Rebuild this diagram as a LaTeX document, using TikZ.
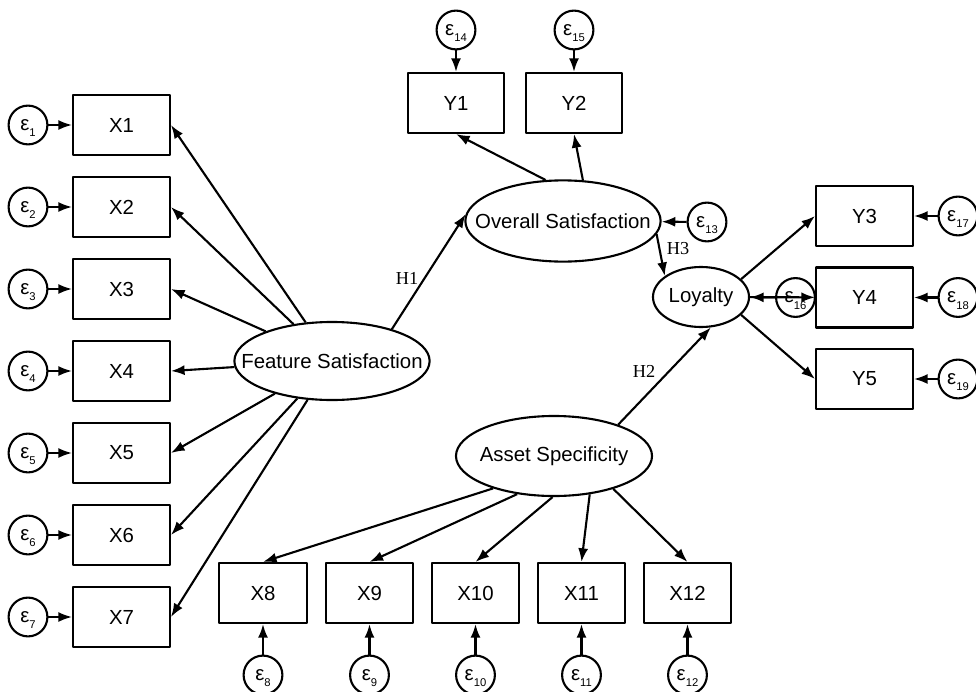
\documentclass[tikz,border=0pt]{standalone}
\usepackage{fontspec}
\setmainfont{Liberation Sans}
\newfontfamily\hypfont{Liberation Serif}
\usetikzlibrary{shapes.geometric,arrows.meta}
\newcommand{\er}[1]{ε\raisebox{-0.6ex}[0pt][0pt]{\fontsize{8}{8}\selectfont #1}}

\begin{document}
\begin{tikzpicture}[x=0.025cm,y=-0.025cm,line width=1.5pt,line join=round,
  >={Latex[length=0.34cm,width=0.25cm]},
  font=\fontsize{14.5}{17}\selectfont,
  box/.style={draw,rectangle,minimum width=2.42cm,minimum height=1.5cm,inner sep=0pt},
  sbox/.style={box,minimum width=2.18cm},
  lv/.style={draw,ellipse,inner xsep=-16pt,inner ysep=0pt},
  err/.style={draw,circle,minimum size=0.97cm,inner sep=0pt},
  hyp/.style={font=\hypfont\fontsize{13}{15}\selectfont,inner sep=0pt}]
  \useasboundingbox (0,0) rectangle (976,692);

  % latent variables
  \node[lv,minimum width=4.88cm,minimum height=1.95cm] (fs) at (332,361) {Feature Satisfaction};
  \node[lv,minimum width=4.88cm,minimum height=2.03cm] (os) at (563,221) {Overall Satisfaction};
  \node[lv,minimum width=4.9cm,minimum height=2cm] (as) at (554,456) {Asset Specificity};
  \node[lv,minimum width=2.4cm,minimum height=1.5cm] (loy) at (701,297) {Loyalty};

  % feature items
  \node[box] (x1) at (121.5,125) {X1};
  \node[box] (x2) at (121.5,207) {X2};
  \node[box] (x3) at (121.5,289) {X3};
  \node[box] (x4) at (121.5,371) {X4};
  \node[box] (x5) at (121.5,453) {X5};
  \node[box] (x6) at (121.5,535) {X6};
  \node[box] (x7) at (121.5,617) {X7};
  \node[err] (e1) at (28,125) {\er{1}};
  \node[err] (e2) at (28,207) {\er{2}};
  \node[err] (e3) at (28,289) {\er{3}};
  \node[err] (e4) at (28,371) {\er{4}};
  \node[err] (e5) at (28,453) {\er{5}};
  \node[err] (e6) at (28,535) {\er{6}};
  \node[err] (e7) at (28,617) {\er{7}};

  % asset items
  \node[sbox] (x8) at (263,593) {X8};
  \node[sbox] (x9) at (369.5,593) {X9};
  \node[sbox] (x10) at (475.5,593) {X10};
  \node[sbox] (x11) at (581.5,593) {X11};
  \node[sbox] (x12) at (687.5,593) {X12};
  \node[err] (e8) at (263,675) {\er{8}};
  \node[err] (e9) at (369.5,675) {\er{9}};
  \node[err] (e10) at (475.5,675) {\er{10}};
  \node[err] (e11) at (581.5,675) {\er{11}};
  \node[err] (e12) at (687.5,675) {\er{12}};

  % outcome items
  \node[box] (y1) at (456,103) {Y1};
  \node[box] (y2) at (574,103) {Y2};
  \node[box] (y3) at (864.5,216) {Y3};
  \node[box] (y4) at (864.5,297.5) {Y4};
  \node[box] (y5) at (864.5,379) {Y5};
  \node[err] (e14) at (456,30) {\er{14}};
  \node[err] (e15) at (574,30) {\er{15}};
  \node[err] (e13) at (707,222) {\er{13}};
  \node[err] (e16) at (795.5,297.5) {\er{16}};
  \node[err] (e17) at (958,216) {\er{17}};
  \node[err] (e18) at (958,297.5) {\er{18}};
  \node[err] (e19) at (958,379) {\er{19}};

  % hypotheses
  \node[hyp] (h1) at (407,278) {H1};
  \node[hyp] (h2) at (644,371) {H2};
  \node[hyp] (h3) at (678,249) {H3};

  % loadings
  \draw[->] (fs) -- (x1.east);
  \draw[->] (fs) -- (x2.east);
  \draw[->] (fs) -- (x3.east);
  \draw[->] (fs) -- (x4.east);
  \draw[->] (fs) -- (x5.east);
  \draw[->] (fs) -- (x6.east);
  \draw[->] (fs) -- (x7.east);
  \draw[->] (as.208) -- (x8.north);
  \draw[->] (as.226.5) -- (x9.north);
  \draw[->] (as.268) -- (x10.north);
  \draw[->] (as.313) -- (x11.north);
  \draw[->] (as.331) -- (x12.north);
  \draw[->] (os.113) -- (y1.south);
  \draw[->] (os.64) -- (y2.south);
  \draw[->] (loy.24) -- (y3.west);
  \draw[->] (loy) -- (y4);
  \draw[->] (loy.-24) -- (y5.west);

  % paths
  \draw[->] (fs.28) -- (os.176);
  \draw[->] (os.-8) -- (loy.150);
  \draw[->] (as.26) -- (loy.-72);

  % errors
  \draw[->] (e1) -- (x1);
  \draw[->] (e2) -- (x2);
  \draw[->] (e3) -- (x3);
  \draw[->] (e4) -- (x4);
  \draw[->] (e5) -- (x5);
  \draw[->] (e6) -- (x6);
  \draw[->] (e7) -- (x7);
  \draw[->] (e8) -- (x8);
  \draw[->] (e9) -- (x9);
  \draw[->] (e10) -- (x10);
  \draw[->] (e11) -- (x11);
  \draw[->] (e12) -- (x12);
  \draw[->] (e13) -- (os);
  \draw[->] (e14) -- (y1);
  \draw[->] (e15) -- (y2);
  \draw[->] (e16) -- (loy);
  \draw[->] (e17) -- (y3);
  \draw[->] (e18) -- (y4);
  \draw[->] (e19) -- (y5);
\end{tikzpicture}
\end{document}
